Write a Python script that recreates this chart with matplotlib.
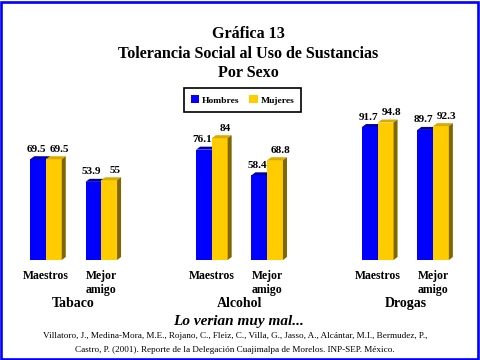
import matplotlib
matplotlib.use("Agg")
import matplotlib.pyplot as plt
from matplotlib.patches import Polygon, Rectangle

# ---- data ----
substances = ["Tabaco", "Alcohol", "Drogas"]
tick_labels = ["Maestros", "Mejor\namigo", "Maestros", "Mejor\namigo", "Maestros", "Mejor\namigo"]
hombres = [69.5, 53.9, 76.1, 58.4, 91.7, 89.7]
mujeres = [69.5, 55, 84, 68.8, 94.8, 92.3]
hombres_lbl = ["69.5", "53.9", "76.1", "58.4", "91.7", "89.7"]
mujeres_lbl = ["69.5", "55", "84", "68.8", "94.8", "92.3"]
positions = [0, 1, 3, 4, 6, 7]
series_names = ["Hombres", "Mujeres"]

W, H = 480, 360
fig = plt.figure(figsize=(4.8, 3.6), dpi=100)
fig.patch.set_facecolor("white")
SERIF = ["Liberation Serif", "DejaVu Serif"]

# axes geometry in pixels
px_per_unit = 55.3
x0_px = 46.0
xmin = -x0_px / px_per_unit
xmax = (W - x0_px) / px_per_unit
base_px = 260.0
scale = 1.45
ax = fig.add_axes([0, (H - base_px) / H, 1, 100 * scale / H])
ax.set_xlim(xmin, xmax)
ax.set_ylim(0, 100)
ax.axis("off")

bw = 0.285
dx = 4.0 / px_per_unit
dy = 3.0 / scale

BLUE, BLUE_TOP = "#0000ff", "#0000a8"
YEL, YEL_TOP, YEL_SIDE = "#ffcc00", "#d9ab00", "#806600"

def bar3d(xl, h, front, top, side):
    ax.add_patch(Rectangle((xl, 0), bw, h, facecolor=front, edgecolor="none"))
    ax.add_patch(Polygon([(xl, h), (xl + dx, h + dy), (xl + bw + dx, h + dy), (xl + bw, h)],
                         closed=True, facecolor=top, edgecolor="none"))
    ax.add_patch(Polygon([(xl + bw, 0), (xl + bw + dx, dy), (xl + bw + dx, h + dy), (xl + bw, h)],
                         closed=True, facecolor=side, edgecolor="none"))

for p, hv, mv, hl, ml in zip(positions, hombres, mujeres, hombres_lbl, mujeres_lbl):
    bar3d(p - bw, hv, BLUE, BLUE_TOP, "#00006a")
    bar3d(p, mv, YEL, YEL_TOP, YEL_SIDE)
    ax.annotate(hl, (p - bw / 2 + dx / 2, hv + dy), xytext=(-2.6, 3.2), textcoords="offset points",
                ha="center", va="baseline", fontsize=8.1, fontweight="bold", family=SERIF,
                annotation_clip=False)
    ax.annotate(ml, (p + bw / 2 + dx / 2, mv + dy), xytext=(2.6, 3.2), textcoords="offset points",
                ha="center", va="baseline", fontsize=8.1, fontweight="bold", family=SERIF,
                annotation_clip=False)

# tick labels
for p, t in zip(positions, tick_labels):
    ax.annotate(t, (p, 0), xytext=(0, -7), textcoords="offset points", ha="center", va="top",
                fontsize=8.5, fontweight="bold", family=SERIF, linespacing=1.25,
                annotation_clip=False)

# substance labels
for i, s in enumerate(substances):
    c = (positions[2 * i] + positions[2 * i + 1]) / 2
    ax.annotate(s, (c, 0), xytext=(0, -26.5), textcoords="offset points", ha="center", va="top",
                fontsize=10, fontweight="bold", family=SERIF, annotation_clip=False)

def fy(py):
    return 1 - py / H

# title
for txt, py in [("Gráfica 13", 34), ("Tolerancia Social al Uso de Sustancias", 54), ("Por Sexo", 73)]:
    fig.text(248 / W, fy(py), txt, ha="center", va="center", fontsize=11.6, fontweight="bold", family=SERIF)

# legend
handles = [Rectangle((0, 0), 1, 1, facecolor=BLUE), Rectangle((0, 0), 1, 1, facecolor=YEL)]
leg = fig.legend(handles, series_names, loc="center", bbox_to_anchor=(242.5 / W, fy(100)),
                 ncol=2, frameon=True, fancybox=False, edgecolor="black", framealpha=1,
                 prop={"family": SERIF, "weight": "bold", "size": 6.8},
                 handlelength=0.9, handleheight=0.9, handletextpad=0.3, columnspacing=1.0,
                 borderpad=0.75, borderaxespad=0)
leg.get_frame().set_linewidth(1.2)

fig.text(239 / W, fy(321.5), "Lo verian muy mal...", ha="center", va="center", fontsize=11,
         fontweight="bold", fontstyle="italic", family=SERIF)
fig.text(235 / W, fy(336), "Villatoro, J., Medina-Mora, M.E., Rojano, C., Fleiz, C., Villa, G., Jasso, A., Alcántar, M.I., Bermudez, P.,",
         ha="center", va="center", fontsize=6.6, family=SERIF)
fig.text(235 / W, fy(350), "Castro, P. (2001). Reporte de la Delegación Cuajimalpa de Morelos. INP-SEP. México.",
         ha="center", va="center", fontsize=6.6, family=SERIF)

# blue border
fig.patches.append(Rectangle((1.2 / W, 1.2 / H), 1 - 3.4 / W, 1 - 3.4 / H, transform=fig.transFigure,
                             fill=False, edgecolor="#0000ff", linewidth=1.9))

fig.savefig("out.png", dpi=100, facecolor="white")
